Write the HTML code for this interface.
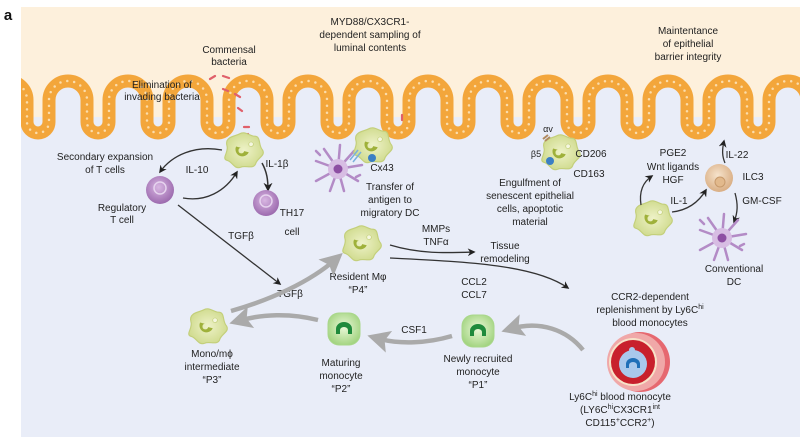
<!DOCTYPE html>
<html><head><meta charset="utf-8"><style>
html,body{margin:0;padding:0;background:#fff;}
svg{display:block;}
text{font-family:"Liberation Sans",sans-serif;font-size:10px;fill:#222;text-anchor:middle;}
</style></head><body>
<svg width="807" height="444" viewBox="0 0 807 444" xmlns="http://www.w3.org/2000/svg">
<defs>
<marker id="ab" viewBox="0 0 10 10" refX="8" refY="5" markerWidth="6" markerHeight="6" orient="auto"><path d="M0,0 L10,5 L0,10 L3,5z" fill="#222"/></marker>
<marker id="ag" viewBox="0 0 10 10" refX="6" refY="5" markerWidth="5" markerHeight="5" orient="auto"><path d="M0,0 L10,5 L0,10 L2,5z" fill="#aaa"/></marker>
<radialGradient id="gm" cx="50%" cy="50%" r="60%"><stop offset="0" stop-color="#eef2c8"/><stop offset="1" stop-color="#ccd887"/></radialGradient>
<radialGradient id="gp" cx="45%" cy="40%" r="60%"><stop offset="0" stop-color="#d8b6e2"/><stop offset="1" stop-color="#9c6aae"/></radialGradient>
<radialGradient id="gg" cx="50%" cy="45%" r="60%"><stop offset="0" stop-color="#eaf8d8"/><stop offset="1" stop-color="#9fd27c"/></radialGradient>
<radialGradient id="gi" cx="45%" cy="40%" r="60%"><stop offset="0" stop-color="#f6e3cc"/><stop offset="1" stop-color="#d9ae84"/></radialGradient>
<g id="mac0"><path d="M-14,-4 C-16,-12 -6,-12 -3,-14 C2,-17 6,-12 10,-12 C16,-12 13,-4 17,0 C20,5 12,7 11,12 C9,17 2,13 -2,15 C-8,17 -9,10 -14,9 C-19,7 -12,2 -14,-4z" fill="url(#gm)" stroke="#c3cf7a" stroke-width="1"/><path d="M-6,-3 A6,6 0 1,0 5,2 L1,1 A2.5,2.5 0 1,1 -2,-2z" fill="#9fb13a"/><circle cx="7" cy="-5" r="2" fill="#f5f7e0" stroke="#c3cf7a" stroke-width=".6"/></g>
<g id="mac"><use href="#mac0" transform="scale(1.15)"/></g>
<g id="mono"><rect x="-16" y="-16" width="32" height="32" rx="11" fill="url(#gg)" stroke="#a9d78a"/><path d="M-8,5 L-8,0 A8,7 0 0,1 8,0 L8,5 L4,5 L4,1 A4,3 0 0,0 -4,1 L-4,5z" fill="#1f8a3c"/></g>
<g id="dc" stroke="#b38bc6" stroke-width="2.5" stroke-linecap="round" fill="none"><path d="M0,0 L-22,-8 M0,0 L-14,-20 M0,0 L2,-24 M0,0 L16,-18 M0,0 L24,-4 M0,0 L20,12 M0,0 L6,22 M0,0 L-8,22 M0,0 L-22,12 M-18,-14 l-4,-4 M18,8 l4,-2"/><circle r="10" fill="#d7bde3" stroke="none"/><circle r="4.5" fill="#8d4fa3" stroke="none"/></g>
<path id="vil" d="M-11,122 L-11,100 A19,19 0 0,1 27,100 L27,122 A11,11 0 0,0 49,122 L49,100 A19,19 0 0,1 87,100 L87,122 A11,11 0 0,0 109,122 L109,100 A19,19 0 0,1 147,100 L147,122 A11,11 0 0,0 169,122 L169,100 A19,19 0 0,1 207,100 L207,122 A11,11 0 0,0 229,122 L229,100 A19,19 0 0,1 267,100 L267,122 A11,11 0 0,0 289,122 L289,100 A19,19 0 0,1 327,100 L327,122 A11,11 0 0,0 349,122 L349,100 A19,19 0 0,1 387,100 L387,122 A11,11 0 0,0 409,122 L409,100 A19,19 0 0,1 447,100 L447,122 A11,11 0 0,0 469,122 L469,100 A19,19 0 0,1 507,100 L507,122 A11,11 0 0,0 529,122 L529,100 A19,19 0 0,1 567,100 L567,122 A11,11 0 0,0 589,122 L589,100 A19,19 0 0,1 627,100 L627,122 A11,11 0 0,0 649,122 L649,100 A19,19 0 0,1 687,100 L687,122 A11,11 0 0,0 709,122 L709,100 A19,19 0 0,1 747,100 L747,122 A11,11 0 0,0 769,122 L769,100 A19,19 0 0,1 807,100 L807,122"/>
</defs>
<rect x="0" y="0" width="807" height="444" fill="#fff"/>
<rect x="21" y="7" width="779" height="430" fill="#e9edf8"/>
<rect x="21" y="7" width="779" height="110" fill="#fdf0dc"/>
<use href="#vil" fill="#e9edf8"/>
<use href="#vil" fill="none" stroke="#f3a63b" stroke-width="13"/>
<use href="#vil" fill="none" stroke="#fbdcaa" stroke-width="2.5" stroke-linecap="round" stroke-dasharray="0 7"/>
<rect x="0" y="0" width="21" height="444" fill="#fff"/>
<rect x="800" y="0" width="7" height="444" fill="#fff"/>
<rect x="0" y="0" width="807" height="7" fill="#fff"/>
<text x="8" y="20" style="font-size:15px;font-weight:bold;fill:#111">a</text>

<!-- bacteria -->
<g stroke="#e0606a" stroke-width="2.2" stroke-linecap="round">
<path d="M210,79 l5,-3 M223,76 l6,2 M223,89 l5,2 M235,94 l5,3 M238,108 l4,3 M244,127 l5,0 M244,136 l4,-2 M402,115 l0,5"/>
</g>
<text x="229" y="53">Commensal</text><text x="229" y="65">bacteria</text>
<text x="162" y="88">Elimination of</text><text x="162" y="100">invading bacteria</text>
<text x="370" y="25">MYD88/CX3CR1-</text><text x="370" y="38">dependent sampling of</text><text x="370" y="51">luminal contents</text>
<text x="688" y="34">Maintentance</text><text x="688" y="47">of epithelial</text><text x="688" y="60">barrier integrity</text>

<!-- left cluster -->
<use href="#mac" x="243" y="150"/>
<path d="M222,150 C195,145 172,155 160,172" fill="none" stroke="#333" stroke-width="1.3" marker-end="url(#ab)"/>
<path d="M183,198 C205,202 225,192 237,172" fill="none" stroke="#333" stroke-width="1.3" marker-end="url(#ab)"/>
<path d="M262,163 C267,172 268,180 268,190" fill="none" stroke="#333" stroke-width="1.5" marker-end="url(#ab)"/>
<path d="M178,205 L280,284" fill="none" stroke="#333" stroke-width="1.3" marker-end="url(#ab)"/>
<circle cx="160" cy="190" r="14" fill="url(#gp)"/><circle cx="160" cy="188" r="6" fill="none" stroke="#e6d3ee" stroke-width="1.5"/>
<circle cx="266" cy="203" r="13" fill="url(#gp)"/><circle cx="266" cy="201" r="6" fill="none" stroke="#e6d3ee" stroke-width="1.5"/>
<text x="105" y="160">Secondary expansion</text><text x="105" y="173">of T cells</text>
<text x="197" y="173">IL-10</text><text x="277" y="167">IL-1β</text>
<text x="122" y="211">Regulatory</text><text x="122" y="223">T cell</text>
<text x="292" y="216">TH17</text><text x="292" y="235">cell</text>
<text x="241" y="239">TGFβ</text>

<!-- DC sampling -->
<use href="#dc" x="338" y="169"/>
<use href="#mac" x="372" y="145"/>
<circle cx="372" cy="158" r="4" fill="#3b7fc4"/>
<path d="M350,160 l8,-10 M353,162 l8,-10" stroke="#7ab0dc" stroke-width="1.5"/>
<text x="382" y="171">Cx43</text>
<text x="390" y="190">Transfer of</text><text x="390" y="203">antigen to</text><text x="390" y="216">migratory DC</text>

<!-- engulfment -->
<use href="#mac" x="560" y="152"/>
<circle cx="550" cy="161" r="4" fill="#3b7fc4"/>
<path d="M543,139 l5,-4 M545,141 l5,-4" stroke="#b08a60" stroke-width="2"/>
<text x="548" y="132" style="font-size:9px">αv</text><text x="536" y="157" style="font-size:9px">β5</text>
<text x="591" y="157">CD206</text><text x="589" y="177">CD163</text>
<text x="530" y="186">Engulfment of</text><text x="530" y="199">senescent epithelial</text><text x="530" y="212">cells, apoptotic</text><text x="530" y="225">material</text>

<!-- right cluster -->
<use href="#mac" x="652" y="218"/>
<path d="M641,205 C639,192 643,182 652,176" fill="none" stroke="#333" stroke-width="1.3" marker-end="url(#ab)"/>
<path d="M672,212 C690,210 700,200 706,190" fill="none" stroke="#333" stroke-width="1.3" marker-end="url(#ab)"/>
<path d="M725,163 C722,156 722,150 724,141" fill="none" stroke="#333" stroke-width="1.3" marker-end="url(#ab)"/>
<path d="M735,193 C738,204 738,212 734,222" fill="none" stroke="#333" stroke-width="1.3" marker-end="url(#ab)"/>
<circle cx="719" cy="178" r="14" fill="url(#gi)"/><circle cx="720" cy="182" r="5" fill="#e2b98c" stroke="#c79a6c"/>
<use href="#dc" x="722" y="238"/>
<text x="673" y="156">PGE2</text><text x="673" y="170">Wnt ligands</text><text x="673" y="183">HGF</text>
<text x="679" y="204">IL-1</text><text x="737" y="158">IL-22</text><text x="753" y="180">ILC3</text><text x="762" y="204">GM-CSF</text>
<text x="734" y="272">Conventional</text><text x="734" y="285">DC</text>

<!-- lower pathway -->
<use href="#mac" x="361" y="243"/>
<path d="M390,245 C420,254 445,253 474,252" fill="none" stroke="#333" stroke-width="1.3" marker-end="url(#ab)"/>
<path d="M390,258 C470,262 535,265 568,288" fill="none" stroke="#333" stroke-width="1.3" marker-end="url(#ab)"/>
<text x="436" y="232">MMPs</text><text x="436" y="245">TNFα</text>
<text x="505" y="249">Tissue</text><text x="505" y="262">remodeling</text>
<text x="474" y="285">CCL2</text><text x="474" y="298">CCL7</text>
<text x="358" y="280">Resident Mφ</text><text x="358" y="293">“P4”</text>
<text x="290" y="297">TGFβ</text>

<g fill="none" stroke="#aaa" stroke-width="4.5">
<path d="M231,311 C270,300 310,282 336,259" marker-end="url(#ag)"/>
<path d="M318,320 C290,313 262,314 238,321" marker-end="url(#ag)"/>
<path d="M452,336 C428,343 400,345 376,338" marker-end="url(#ag)"/>
<path d="M583,350 C567,330 540,320 510,329" marker-end="url(#ag)"/>
</g>
<use href="#mac" x="207" y="326"/>
<use href="#mono" x="344" y="329"/>
<use href="#mono" x="478" y="331"/>
<text x="414" y="333">CSF1</text>
<text x="212" y="357">Mono/mϕ</text><text x="212" y="370">intermediate</text><text x="212" y="383">“P3”</text>
<text x="341" y="366">Maturing</text><text x="341" y="379">monocyte</text><text x="341" y="392">“P2”</text>
<text x="478" y="362">Newly recruited</text><text x="478" y="375">monocyte</text><text x="478" y="388">“P1”</text>

<!-- blood vessel -->
<circle cx="640" cy="362" r="30" fill="#e66870"/>
<circle cx="636" cy="362" r="29" fill="#f0a8a8"/>
<circle cx="633" cy="362" r="24" fill="#f7e2c8"/>
<circle cx="633" cy="362" r="22" fill="#c8202c"/>
<circle cx="633" cy="364" r="14" fill="#a9c8ec"/>
<circle cx="632" cy="350" r="3" fill="#a9c8ec"/>
<path d="M626,368 L626,364 A7,6 0 0,1 640,364 L640,368 L637,368 L637,365 A4,3 0 0,0 629,365 L629,368z" fill="#1f6fb8"/>
<text x="650" y="300">CCR2-dependent</text>
<text x="650" y="313">replenishment by Ly6C<tspan dy="-4" style="font-size:7px">hi</tspan></text>
<text x="650" y="326">blood monocytes</text>
<text x="620" y="400">Ly6C<tspan dy="-4" style="font-size:7px">hi</tspan><tspan dy="4"> blood monocyte</tspan></text>
<text x="620" y="413">(LY6C<tspan dy="-4" style="font-size:7px">hi</tspan><tspan dy="4">CX3CR1</tspan><tspan dy="-4" style="font-size:7px">int</tspan></text>
<text x="620" y="426">CD115<tspan dy="-4" style="font-size:7px">+</tspan><tspan dy="4">CCR2</tspan><tspan dy="-4" style="font-size:7px">+</tspan><tspan dy="4">)</tspan></text>
</svg>
</body></html>
